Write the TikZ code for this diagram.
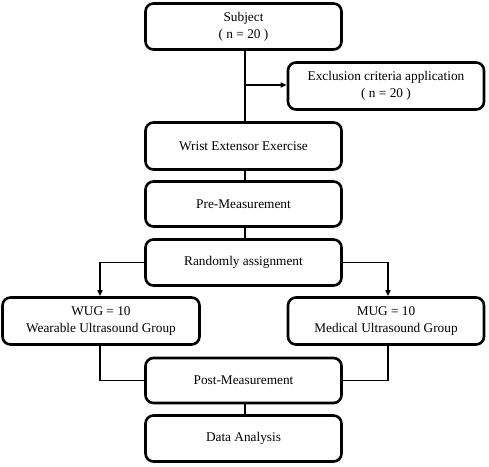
\documentclass[tikz,border=0pt]{standalone}
\usepackage{fontspec}
\setmainfont{Liberation Serif}
\usetikzlibrary{arrows.meta}
\begin{document}
\begin{tikzpicture}[x=1pt,y=-1pt,
  box/.style={draw,line width=2.6pt,rounded corners=8pt,align=center,font=\fontsize{13.3}{17}\selectfont},
  conn/.style={line width=1.6pt},
  arr/.style={conn,-{Triangle[length=6pt,width=5pt]}}]
\useasboundingbox (0,0) rectangle (489,466);
\node[box,minimum width=196pt,minimum height=46pt] (subj) at (243.5,26.5) {Subject\\( n = 20 )};
\node[box,minimum width=196pt,minimum height=47pt] (excl) at (386,86) {Exclusion criteria application\\( n = 20 )};
\node[box,minimum width=196pt,minimum height=47pt] (wrist) at (243.5,146) {Wrist Extensor Exercise};
\node[box,minimum width=196pt,minimum height=45pt] (pre) at (243.5,204) {Pre-Measurement};
\node[box,minimum width=196pt,minimum height=46pt] (rand) at (243.5,262.5) {Randomly assignment};
\node[box,minimum width=197pt,minimum height=47pt] (wug) at (101,321) {WUG = 10\\Wearable Ultrasound Group};
\node[box,minimum width=196pt,minimum height=47pt] (mug) at (386,321) {MUG = 10\\Medical Ultrasound Group};
\node[box,minimum width=196pt,minimum height=45pt] (post) at (243.5,380.5) {Post-Measurement};
\node[box,minimum width=196pt,minimum height=46pt] (data) at (243.5,438.5) {Data Analysis};
\coordinate (br) at (245,85);
\draw[conn] (subj.south -| br) -- (wrist.north -| br);
\draw[arr] (br) -- (excl.west |- br);
\draw[conn] (wrist.south -| br) -- (pre.north -| br);
\draw[conn] (pre.south -| br) -- (rand.north -| br);
\draw[arr] (rand.west) -| (100,0 |- wug.north);
\draw[arr] (rand.east) -| (388,0 |- mug.north);
\draw[conn] (100,0 |- wug.south) |- (post.west);
\draw[conn] (388,0 |- mug.south) |- (post.east);
\draw[conn] (post.south -| br) -- (data.north -| br);
\end{tikzpicture}
\end{document}
